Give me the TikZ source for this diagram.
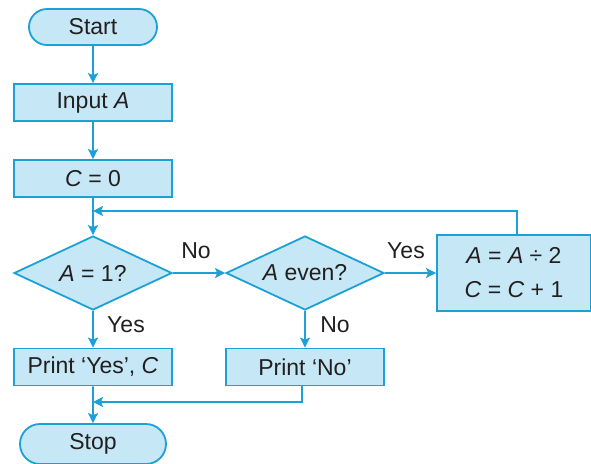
\documentclass[tikz,border=0pt]{standalone}
\usepackage{fontspec}
\setmainfont{Liberation Sans}
\usepackage{tikz}
\usetikzlibrary{arrows.meta,shapes.geometric,shapes.misc,positioning}
\definecolor{flowline}{HTML}{1BA1D8}
\definecolor{flowfill}{HTML}{C6E7F5}
\definecolor{flowtext}{HTML}{231F20}

\begin{document}
\begin{tikzpicture}[
    x=0.5pt, y=-0.5pt,
    every node/.style={font=\fontsize{11.5}{14}\selectfont, text=flowtext},
    terminal/.style={rounded rectangle, draw=flowline, fill=flowfill, line width=0.9pt, minimum height=18pt, inner sep=0pt},
    box/.style={draw=flowline, fill=flowfill, line width=0.9pt, minimum width=79pt, minimum height=18.5pt, inner sep=0pt, align=center},
    decision/.style={diamond, draw=flowline, fill=flowfill, line width=0.9pt, aspect=2.13, minimum width=79pt, minimum height=37pt, inner sep=0pt},
    arrow/.style={-{Stealth[length=5pt, width=5pt, inset=1pt]}, draw=flowline, line width=0.9pt},
    link/.style={draw=flowline, line width=0.9pt}
]
    \useasboundingbox (0,0) rectangle (591,463);

    % Start and input
    \node[terminal, minimum width=64pt] (start) at (93,27) {Start};
    \node[box] (input) at (93,102.5) {Input \textit{A}};
    \node[box] (count) at (93,178.5) {\textit{C} = 0};

    % Decisions
    \node[decision] (isone) at (93,273) {\textit{A} = 1?};
    \node[decision] (iseven) at (305,273) {\textit{A} even?};

    % Halve and count
    \node[box, minimum width=77pt, minimum height=38pt, align=center] (halve) at (514,273) {\textit{A} = \textit{A} ÷ 2\\[3pt]\textit{C} = \textit{C} + 1};

    % Outputs
    \node[box] (printyes) at (93,367) {Print ‘Yes’, \textit{C}};
    \node[box] (printno) at (305,367) {Print ‘No’};
    \node[terminal, minimum width=73pt, minimum height=20pt] (stop) at (93,444) {Stop};

    % Merge points
    \coordinate (loop) at (93,211);
    \coordinate (join) at (93,402);

    % Arrows
    \draw[arrow] (start) -- (input);
    \draw[arrow] (input) -- (count);
    \draw[arrow] (count) -- (isone);
    \draw[arrow] (isone) -- (iseven);
    \draw[arrow] (iseven) -- (halve);
    \draw[arrow] (isone) -- (printyes);
    \draw[arrow] (iseven) -- (printno);
    \draw[arrow] (printyes) -- (stop);
    \draw[arrow] ([xshift=1.5pt]halve.north) |- (loop);
    \draw[arrow] ([xshift=-1.5pt]printno.south) |- (join);

    % Labels
    \node (lno) at (196,251) {No};
    \node (lyes) at (406,251) {Yes};
    \node (lyes2) at (126,325) {Yes};
    \node (lno2) at (335,325) {No};
\end{tikzpicture}
\end{document}
